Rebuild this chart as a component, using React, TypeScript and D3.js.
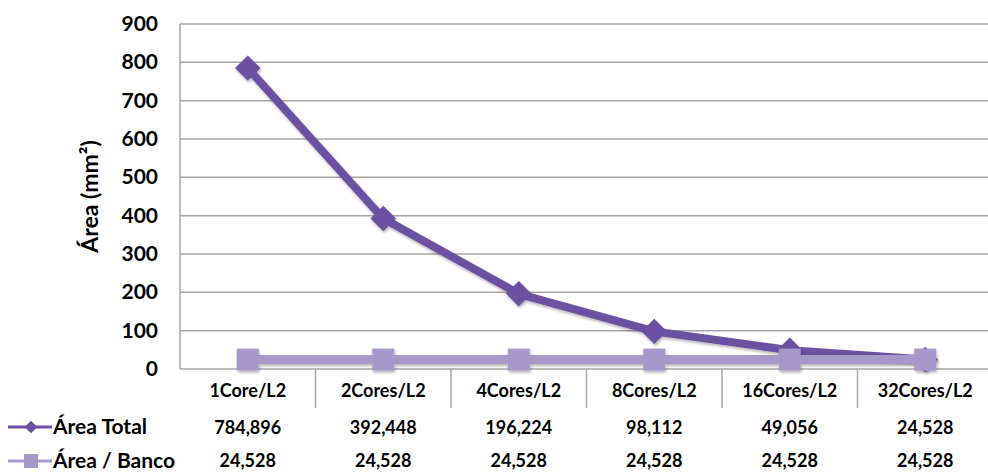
import * as d3 from "d3";
import React, { useEffect, useRef } from "react";

const categories = ["1Core/L2", "2Cores/L2", "4Cores/L2", "8Cores/L2", "16Cores/L2", "32Cores/L2"];
const areaTotal = [784.896, 392.448, 196.224, 98.112, 49.056, 24.528];
const areaBanco = [24.528, 24.528, 24.528, 24.528, 24.528, 24.528];
const totalLabels = ["784,896", "392,448", "196,224", "98,112", "49,056", "24,528"];
const bancoLabels = ["24,528", "24,528", "24,528", "24,528", "24,528", "24,528"];
const yTicks = [0, 100, 200, 300, 400, 500, 600, 700, 800, 900];

const darkPurple = "#6c51a2";
const lightPurple = "#a698c8";
const font = "Lato, 'Open Sans', sans-serif";

export default function App() {
    const svgRef = useRef<SVGSVGElement | null>(null);

    useEffect(() => {
        if (!svgRef.current) return;
        const svg = d3.select(svgRef.current);
        svg.selectAll("*").remove();

        const width = 988;
        const height = 472;
        const left = 180;
        const right = 993;
        const top = 24;
        const bottom = 369;

        const x = d3.scaleBand<string>().domain(categories).range([left, right]);
        const y = d3.scaleLinear().domain([0, 900]).range([bottom, top]);

        svg.attr("width", width).attr("height", height);

        const defs = svg.append("defs");
        const filter = defs.append("filter").attr("id", "shadow")
            .attr("x", "-20%").attr("y", "-20%").attr("width", "140%").attr("height", "140%");
        filter.append("feDropShadow").attr("dx", 1).attr("dy", 2).attr("stdDeviation", 1.5)
            .attr("flood-color", "#000").attr("flood-opacity", 0.3);

        // gridlines
        svg.append("g").selectAll("line").data(yTicks.filter((t) => t > 0)).enter().append("line")
            .attr("x1", left).attr("x2", right)
            .attr("y1", (d) => y(d)).attr("y2", (d) => y(d))
            .attr("stroke", "#a6a6a6").attr("stroke-width", 1.5);

        // axes + table dividers
        svg.append("line").attr("x1", left).attr("x2", left).attr("y1", top).attr("y2", bottom)
            .attr("stroke", "#a6a6a6").attr("stroke-width", 1.5);
        svg.append("line").attr("x1", left).attr("x2", right).attr("y1", bottom).attr("y2", bottom)
            .attr("stroke", "#a6a6a6").attr("stroke-width", 1.5);
        svg.append("g").selectAll("line").data(categories.slice(1)).enter().append("line")
            .attr("x1", (d) => x(d)!).attr("x2", (d) => x(d)!)
            .attr("y1", bottom).attr("y2", 408)
            .attr("stroke", "#a6a6a6").attr("stroke-width", 1.5);

        // y tick labels
        svg.append("g").selectAll("text").data(yTicks).enter().append("text")
            .attr("x", 158).attr("y", (d) => y(d) + 7)
            .attr("text-anchor", "end")
            .style("font-family", font).style("font-weight", "bold").style("font-size", "21px")
            .attr("fill", "#000")
            .text((d) => d);

        // y title
        svg.append("text")
            .attr("transform", `translate(98,${(top + bottom) / 2}) rotate(-90)`)
            .attr("text-anchor", "middle")
            .style("font-family", font).style("font-weight", "bold").style("font-size", "23px")
            .text("Área (mm²)");

        const cx = (d: string) => x(d)! + x.bandwidth() / 2;

        // series lines
        const line = d3.line<number>()
            .x((d, i) => cx(categories[i]))
            .y((d) => y(d));

        const gTotal = svg.append("g").attr("filter", "url(#shadow)");
        gTotal.append("path").attr("d", line(areaTotal))
            .attr("fill", "none").attr("stroke", darkPurple).attr("stroke-width", 8)
            .attr("stroke-linejoin", "round");
        gTotal.selectAll("rect").data(areaTotal).enter().append("rect")
            .attr("x", -9).attr("y", -9).attr("width", 18).attr("height", 18)
            .attr("transform", (d, i) => `translate(${cx(categories[i])},${y(d)}) rotate(45)`)
            .attr("fill", darkPurple);

        const gBanco = svg.append("g").attr("filter", "url(#shadow)");
        gBanco.append("path").attr("d", line(areaBanco))
            .attr("fill", "none").attr("stroke", lightPurple).attr("stroke-width", 9);
        gBanco.selectAll("rect").data(areaBanco).enter().append("rect")
            .attr("x", (d, i) => cx(categories[i]) - 11).attr("y", (d) => y(d) - 11)
            .attr("width", 22).attr("height", 22)
            .attr("fill", lightPurple);

        // data table
        const txt = (g: d3.Selection<SVGGElement, unknown, null, undefined>, labels: string[], yy: number) => {
            g.selectAll("text").data(labels).enter().append("text")
                .attr("x", (d, i) => cx(categories[i]))
                .attr("y", yy)
                .attr("text-anchor", "middle")
                .style("font-family", font).style("font-weight", "bold").style("font-size", "18px")
                .text((d) => d);
        };
        txt(svg.append("g"), categories, 397);
        txt(svg.append("g"), totalLabels, 434);
        txt(svg.append("g"), bancoLabels, 467);

        // legend keys
        const leg = svg.append("g");
        leg.append("line").attr("x1", 8).attr("x2", 52).attr("y1", 427).attr("y2", 427)
            .attr("stroke", darkPurple).attr("stroke-width", 3);
        leg.append("rect").attr("x", -4.5).attr("y", -4.5).attr("width", 9).attr("height", 9)
            .attr("transform", "translate(31,427) rotate(45)").attr("fill", darkPurple);
        leg.append("text").attr("x", 53).attr("y", 434)
            .style("font-family", font).style("font-weight", "bold").style("font-size", "21px")
            .text("Área Total");
        leg.append("line").attr("x1", 8).attr("x2", 52).attr("y1", 461).attr("y2", 461)
            .attr("stroke", lightPurple).attr("stroke-width", 3);
        leg.append("rect").attr("x", 24).attr("y", 454).attr("width", 14).attr("height", 14)
            .attr("fill", lightPurple);
        leg.append("text").attr("x", 53).attr("y", 468)
            .style("font-family", font).style("font-weight", "bold").style("font-size", "21px")
            .text("Área / Banco");
    }, []);

    return (
        <svg ref={svgRef} style={{ position: "absolute", left: 0, top: 0, background: "#fff" }} />
    );
}
